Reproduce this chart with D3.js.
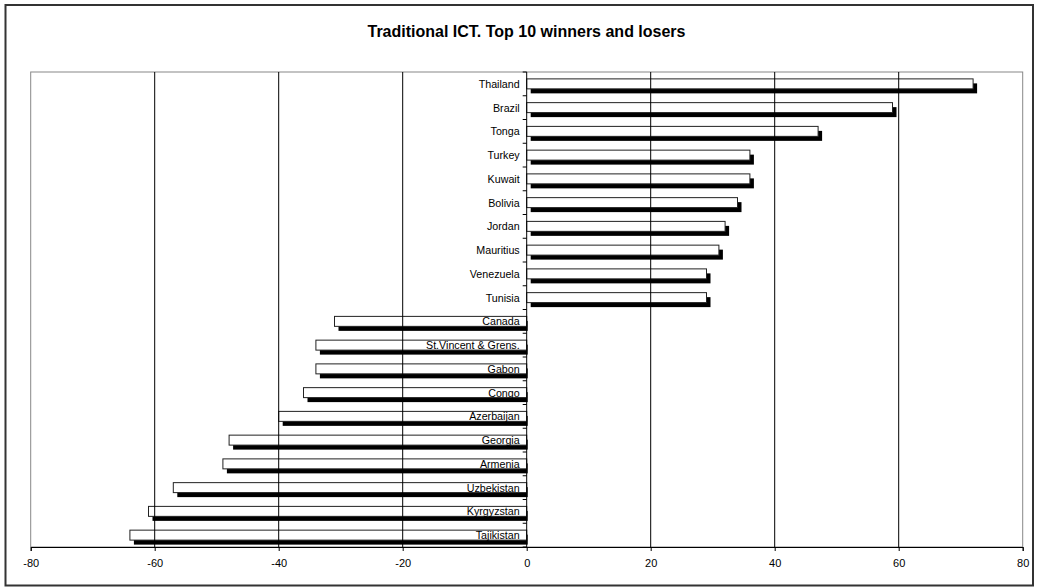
<!DOCTYPE html>
<html>
<head>
<meta charset="utf-8">
<script src="https://cdn.jsdelivr.net/npm/d3@7"></script>
<style>
  html, body { margin: 0; padding: 0; background: #fff; }
  svg { display: block; font-family: "Liberation Sans", Arial, Helvetica, sans-serif; }
</style>
</head>
<body>
<svg id="chart" width="1039" height="588"></svg>
<script>
// Countries, best performers first, then the biggest losers
const categories = [
  "Thailand", "Brazil", "Tonga", "Turkey", "Kuwait", "Bolivia", "Jordan",
  "Mauritius", "Venezuela", "Tunisia", "Canada", "St.Vincent & Grens.",
  "Gabon", "Congo", "Azerbaijan", "Georgia", "Armenia", "Uzbekistan",
  "Kyrgyzstan", "Tajikistan"
];
const values = [
  72, 59, 47, 36, 36, 34, 32, 31, 29, 29,
  -31, -34, -34, -36, -40, -48, -49, -57, -61, -64
];
const xTicks = [-80, -60, -40, -20, 0, 20, 40, 60, 80];
const gridTicks = [-60, -40, -20, 20, 40, 60];
const title = "Traditional ICT. Top 10 winners and losers";

const svg = d3.select("#chart");
const plot = { left: 30.7, right: 1022.7, top: 72, bottom: 547 };

const x = d3.scaleLinear().domain([-80, 80]).range([plot.left, plot.right]);
const y = d3.scaleBand().domain(categories)
  .range([plot.top, plot.bottom])
  .paddingInner(0.58).paddingOuter(0.29);
const x0 = x(0);

// chart frame
svg.append("rect")
  .attr("x", 5.5).attr("y", 5).attr("width", 1027.5).attr("height", 580.5)
  .attr("fill", "#fff").attr("stroke", "#333").attr("stroke-width", 2);

svg.append("text")
  .attr("x", 526.5).attr("y", 36.5)
  .attr("text-anchor", "middle")
  .attr("font-size", 16).attr("font-weight", "bold")
  .text(title);

// plot area border
svg.append("rect")
  .attr("x", plot.left).attr("y", plot.top)
  .attr("width", plot.right - plot.left).attr("height", plot.bottom - plot.top)
  .attr("fill", "none").attr("stroke", "#888").attr("stroke-width", 1);

const rows = categories.map((c, i) => ({ name: c, value: values[i] }));

// drop shadows
svg.append("g").selectAll("rect").data(rows).join("rect")
  .attr("x", d => x(Math.min(d.value, 0)) + 4)
  .attr("y", d => y(d.name) + 4.5)
  .attr("width", d => Math.abs(x(d.value) - x0) - (d.value < 0 ? 3 : 0))
  .attr("height", y.bandwidth())
  .attr("fill", "#000");

// white bars
svg.append("g").selectAll("rect").data(rows).join("rect")
  .attr("x", d => x(Math.min(d.value, 0)))
  .attr("y", d => y(d.name))
  .attr("width", d => Math.abs(x(d.value) - x0))
  .attr("height", y.bandwidth())
  .attr("fill", "#fff")
  .attr("stroke", "#222").attr("stroke-width", 1);

// vertical gridlines
svg.append("g").selectAll("line").data(gridTicks).join("line")
  .attr("x1", d => x(d)).attr("x2", d => x(d))
  .attr("y1", plot.top).attr("y2", plot.bottom)
  .attr("stroke", "#000").attr("stroke-width", 1);

// bottom value axis
const xAxis = d3.axisBottom(x).tickValues(xTicks).tickSize(4).tickPadding(8)
  .tickFormat(d => String(d));
const gx = svg.append("g").attr("transform", `translate(0,${plot.bottom})`).call(xAxis);
gx.select(".domain").attr("stroke", "#000");
gx.selectAll(".tick line").attr("stroke", "#000");
gx.selectAll(".tick text").attr("font-size", 11).attr("fill", "#000")
  .attr("font-family", "Liberation Sans, Arial, sans-serif");

// zero category axis with ticks at band boundaries
const step = y.step();
const bounds = categories.map(c => y(c) - step * y.paddingInner() / 2);
bounds.push(plot.bottom);
svg.append("line")
  .attr("x1", x0).attr("x2", x0)
  .attr("y1", plot.top).attr("y2", plot.bottom)
  .attr("stroke", "#000").attr("stroke-width", 1);
svg.append("g").selectAll("line").data(bounds).join("line")
  .attr("x1", x0 - 4).attr("x2", x0)
  .attr("y1", d => d).attr("y2", d => d)
  .attr("stroke", "#000").attr("stroke-width", 1);

// category labels beside the zero line
svg.append("g").selectAll("text").data(rows).join("text")
  .attr("x", x0 - 7)
  .attr("y", d => y(d.name) + y.bandwidth() / 2 + 4)
  .attr("text-anchor", "end")
  .attr("font-size", 10.7)
  .attr("fill", "#000")
  .text(d => d.name);
</script>
</body>
</html>
